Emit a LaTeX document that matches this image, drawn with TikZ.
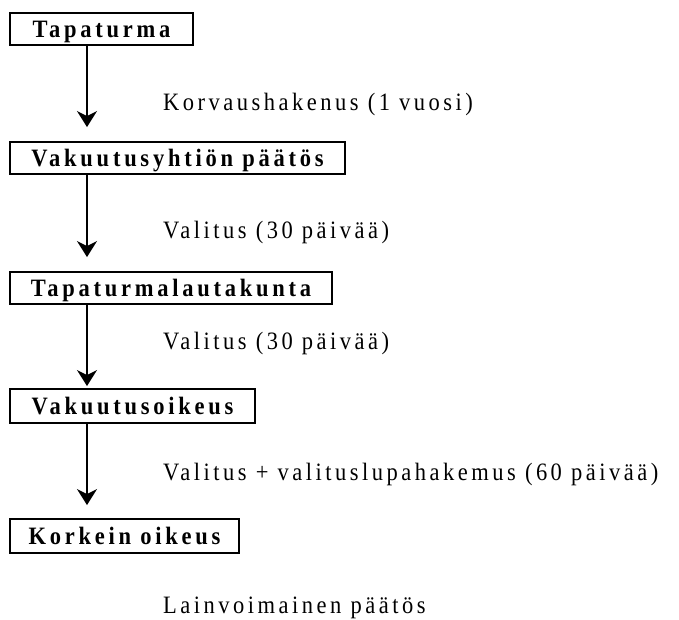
\documentclass[tikz,border=0pt]{standalone}
\usepackage{fontspec}
\setmainfont{Liberation Serif}[FakeStretch=0.9, LetterSpace=14, BoldFeatures={LetterSpace=15}]
\usetikzlibrary{arrows.meta}
\begin{document}
\begin{tikzpicture}[x=1pt,y=-1pt,
  stagebox/.style={draw, line width=1.9pt, inner sep=0pt, font=\fontsize{25}{29}\selectfont\bfseries,
    text height=16.5pt, text depth=0pt},
  steplabel/.style={anchor=base west, inner sep=0pt, font=\fontsize{25}{29}\selectfont},
  arr/.style={line width=1.9pt, -{Stealth[length=16pt,width=20pt,inset=5pt]}}]
\useasboundingbox (0,0) rectangle (679,619);
\coordinate (ax) at (87,0);
\node[stagebox, minimum width=183pt, minimum height=32pt] (b1) at (101.5,29) {Tapaturma};
\node[stagebox, minimum width=335pt, minimum height=32pt] (b2) at (177.5,158) {Vakuutusyhtiön päätös};
\node[stagebox, minimum width=322pt, minimum height=32pt] (b3) at (171,288) {Tapaturmalautakunta};
\node[stagebox, minimum width=245pt, minimum height=34pt] (b4) at (132.5,406) {Vakuutusoikeus};
\node[stagebox, minimum width=229pt, minimum height=34pt] (b5) at (124.5,536) {Korkein oikeus};
\node[steplabel] (l1) at (163,110) {Korvaushakenus (1 vuosi)};
\node[steplabel] (l2) at (163,238) {Valitus (30 päivää)};
\node[steplabel] (l3) at (163,349) {Valitus (30 päivää)};
\node[steplabel] (l4) at (163,480) {Valitus + valituslupahakemus (60 päivää)};
\node[steplabel] (l5) at (163,613) {Lainvoimainen päätös};
\draw[arr, shorten >=14pt] (b1.south -| ax) -- (b2.north -| ax);
\draw[arr, shorten >=14pt] (b2.south -| ax) -- (b3.north -| ax);
\draw[arr, shorten >=2pt] (b3.south -| ax) -- (b4.north -| ax);
\draw[arr, shorten >=13pt] (b4.south -| ax) -- (b5.north -| ax);
\end{tikzpicture}
\end{document}
